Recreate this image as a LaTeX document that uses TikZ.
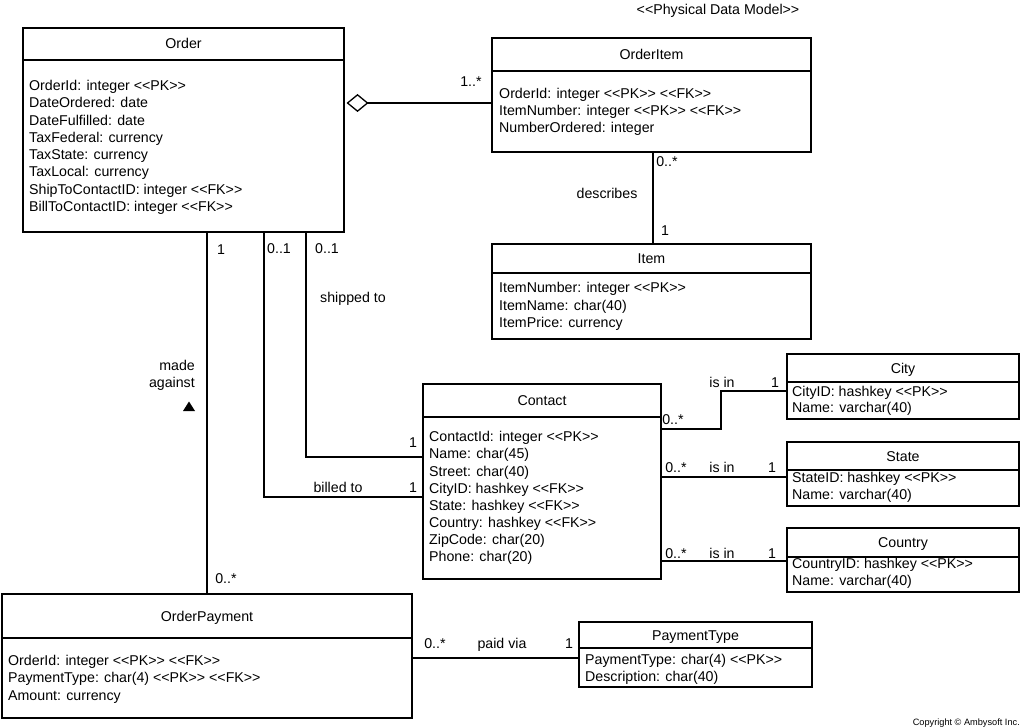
\documentclass[tikz,border=0pt]{standalone}
\usepackage{fontspec}
\setmainfont{Liberation Sans}[Ligatures=TeXOff]
\usetikzlibrary{arrows.meta}
\newcommand\entity[7]{%
  \node[ebox, anchor=north west, minimum width={(#4-#2)*1pt}, minimum height={(#5-#3)*1pt}] (#1) at (#2,#3) {};
  \draw[divline] (#2,#6) -- (#4,#6);
  \node[ttl] (#1-title) at ({(#2+#4)/2},{(#3+#6)/2+5}) {#7};
}
\begin{document}
\begin{tikzpicture}[x=1pt,y=-1pt,
  font=\fontsize{14.2}{17}\selectfont,
  ebox/.style={draw, line width=2.5pt, rectangle, inner sep=0pt, outer sep=0pt},
  divline/.style={line width=2.2pt},
  conn/.style={line width=1.3pt},
  attr/.style={anchor=base west, inner sep=0pt},
  ttl/.style={anchor=base, inner sep=0pt},
  lbl/.style={anchor=base, inner sep=0pt}]
\useasboundingbox[fill=white] (0,0) rectangle (1024,727);

% entities
\entity{order}{23}{28}{344}{232}{60}{Order}
\entity{orderitem}{492}{38}{811}{152}{71}{OrderItem}
\entity{item}{492}{244}{811}{339}{273}{Item}
\entity{contact}{423}{384}{661}{579}{417}{Contact}
\entity{city}{787}{354}{1019}{419}{382}{City}
\entity{state}{787}{442}{1019}{506}{470}{State}
\entity{country}{787}{528}{1019}{592}{557}{Country}
\entity{payment}{2}{594}{412}{718}{638}{OrderPayment}
\entity{ptype}{579}{622}{812}{687}{648}{PaymentType}

% attributes
\foreach \t [count=\i] in {OrderId: integer <<PK>>, DateOrdered: date, DateFulfilled: date, TaxFederal: currency, TaxState: currency, TaxLocal: currency, ShipToContactID: integer <<FK>>, BillToContactID: integer <<FK>>}
  \node[attr] (order-a\i) at (29,{90.5+(\i-1)*17.3}) {\t};
\foreach \t [count=\i] in {OrderId: integer <<PK>> <<FK>>, ItemNumber: integer <<PK>> <<FK>>, NumberOrdered: integer}
  \node[attr] (orderitem-a\i) at (499,{98.3+(\i-1)*17.3}) {\t};
\foreach \t [count=\i] in {ItemNumber: integer <<PK>>, ItemName: char(40), ItemPrice: currency}
  \node[attr] (item-a\i) at (499,{292.7+(\i-1)*17.5}) {\t};
\foreach \t [count=\i] in {ContactId: integer <<PK>>, Name: char(45), Street: char(40), CityID: hashkey <<FK>>, State: hashkey <<FK>>, Country: hashkey <<FK>>, ZipCode: char(20), Phone: char(20)}
  \node[attr] (contact-a\i) at (429,{441.7+(\i-1)*17.15}) {\t};
\foreach \t [count=\i] in {CityID: hashkey <<PK>>, Name: varchar(40)}
  \node[attr] (city-a\i) at (792,{396+(\i-1)*16.5}) {\t};
\foreach \t [count=\i] in {StateID: hashkey <<PK>>, Name: varchar(40)}
  \node[attr] (state-a\i) at (792,{482+(\i-1)*17}) {\t};
\foreach \t [count=\i] in {CountryID: hashkey <<PK>>, Name: varchar(40)}
  \node[attr] (country-a\i) at (792,{568+(\i-1)*17}) {\t};
\foreach \t [count=\i] in {OrderId: integer <<PK>> <<FK>>, PaymentType: char(4) <<PK>> <<FK>>, Amount: currency}
  \node[attr] (payment-a\i) at (8,{665.7+(\i-1)*17.2}) {\t};
\foreach \t [count=\i] in {PaymentType: char(4) <<PK>>, Description: char(40)}
  \node[attr] (ptype-a\i) at (585,{664+(\i-1)*17}) {\t};

% helper coordinates
\coordinate (aggy) at (0,103);
\coordinate (descx) at (653,0);
\coordinate (billpt) at (264,497);
\coordinate (shippt) at (306,457);
\coordinate (cityA) at (721,429);
\coordinate (cityB) at (0,391);
\coordinate (stY) at (0,477);
\coordinate (coY) at (0,561);
\coordinate (pvY) at (0,658);

% connectors
\draw[conn, {Diamond[open, length=22pt, width=18pt, line width=1.3pt]}-, shorten <=2.5pt] (order.east |- aggy) -- (orderitem.west |- aggy);
\draw[conn] (orderitem.south -| descx) -- (item.north -| descx);
\draw[conn] (order.south -| payment.north) -- (payment.north);
\draw[conn] (order.south -| billpt) |- (contact.west |- billpt);
\draw[conn] (order.south -| shippt) |- (contact.west |- shippt);
\draw[conn] (contact.east |- cityA) -- (cityA) |- (city.west |- cityB);
\draw[conn] (contact.east |- stY) -- (state.west |- stY);
\draw[conn] (contact.east |- coY) -- (country.west |- coY);
\draw[conn] (payment.east |- pvY) -- (ptype.west |- pvY);

% labels
\node[lbl] (t-title) at (718,15) {<<Physical Data Model>>};
\node[lbl] (l-agg) at (471,87) {1..*};
\node[lbl] (l-d1) at (667,167) {0..*};
\node[lbl] (l-desc) at (607,199) {describes};
\node[lbl] (l-d2) at (665,236) {1};
\node[lbl] (l-m1) at (221,254) {1};
\node[lbl] (l-m2) at (226,583) {0..*};
\node[anchor=base east, inner sep=0pt] (l-made) at (195,370) {made};
\node[anchor=base east, inner sep=0pt] (l-against) at (195,387) {against};
\fill (183,411) -- (195,411) -- (189,401.5) -- cycle;
\node[lbl] (l-b1) at (279,253) {0..1};
\node[lbl] (l-s1) at (327,253) {0..1};
\node[lbl] (l-ship) at (353,302) {shipped to};
\node[lbl] (l-bill) at (338,492) {billed to};
\node[lbl] (l-s2) at (413,447) {1};
\node[lbl] (l-b2) at (413,492) {1};
\node[lbl] (l-c1) at (673,424) {0..*};
\node[lbl] (l-c2) at (722,387) {is in};
\node[lbl] (l-c3) at (775,387) {1};
\node[lbl] (l-st1) at (676,472) {0..*};
\node[lbl] (l-st2) at (722,472) {is in};
\node[lbl] (l-st3) at (772,472) {1};
\node[lbl] (l-co1) at (676,558) {0..*};
\node[lbl] (l-co2) at (722,558) {is in};
\node[lbl] (l-co3) at (772,558) {1};
\node[lbl] (l-p1) at (435,648) {0..*};
\node[lbl] (l-p2) at (502,648) {paid via};
\node[lbl] (l-p3) at (569,648) {1};
\node[anchor=base east, inner sep=0pt, font=\fontsize{9.2}{11}\selectfont] (copy) at (1020,725) {Copyright © Ambysoft Inc.};
\end{tikzpicture}
\end{document}
